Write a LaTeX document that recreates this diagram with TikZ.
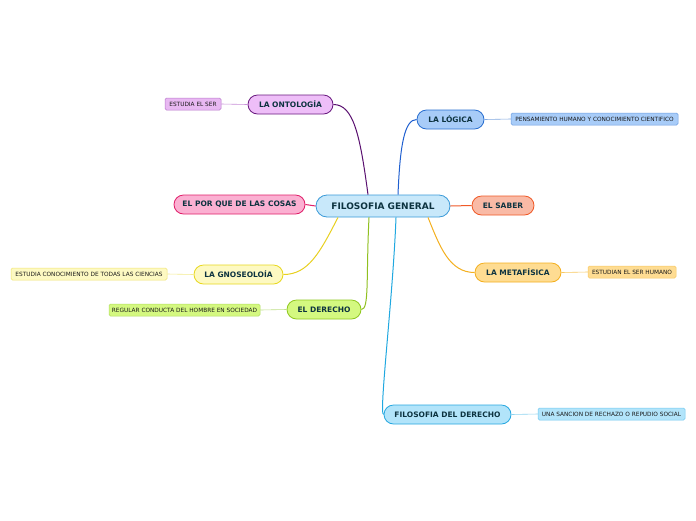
\documentclass[tikz,border=0pt]{standalone}
\usepackage{fontspec}
\setmainfont{DejaVu Sans}
\definecolor{txt}{HTML}{0D3340}
\definecolor{cF}{HTML}{C8E8FA}\definecolor{cD}{HTML}{3A9AD8}
\definecolor{oF}{HTML}{EEBEF8}\definecolor{oD}{HTML}{6A1B80}\definecolor{oC}{HTML}{5A1070}
\definecolor{gF}{HTML}{A8CCF8}\definecolor{gD}{HTML}{2A6FD0}\definecolor{gC}{HTML}{2060D0}
\definecolor{pF}{HTML}{FBB0D2}\definecolor{pD}{HTML}{E0206A}
\definecolor{sF}{HTML}{F9BAA6}\definecolor{sD}{HTML}{F05A28}
\definecolor{nF}{HTML}{FDF9C2}\definecolor{nD}{HTML}{E8D820}\definecolor{nC}{HTML}{E8D020}
\definecolor{dF}{HTML}{D4F880}\definecolor{dD}{HTML}{90C820}\definecolor{dC}{HTML}{90C020}
\definecolor{mF}{HTML}{FEDC92}\definecolor{mD}{HTML}{F4B020}
\definecolor{fF}{HTML}{B2E4FA}\definecolor{fD}{HTML}{28A8E0}\definecolor{fC}{HTML}{20A8E0}
\definecolor{l1F}{HTML}{E8B8F2}\definecolor{l1D}{HTML}{B878CC}\definecolor{l1C}{HTML}{C890D8}
\definecolor{l2D}{HTML}{6A9CE0}\definecolor{l2C}{HTML}{80A8E0}
\definecolor{l3D}{HTML}{F0E470}\definecolor{l3C}{HTML}{F4EC90}
\definecolor{l4D}{HTML}{B0DC60}\definecolor{l4C}{HTML}{C0E088}
\definecolor{l5D}{HTML}{F8C860}
\definecolor{l6D}{HTML}{70C8F0}\definecolor{l6C}{HTML}{90D4F0}
\begin{document}
\begin{tikzpicture}[x=1pt,y=-1pt,
  main/.style={draw, rounded corners=9.5pt, line width=0.8pt, font=\fontsize{7.5}{8}\selectfont\bfseries, text=txt, inner sep=0pt, minimum height=19pt},
  leaf/.style={draw, rounded corners=1.5pt, line width=0.5pt, font=\fontsize{5.8}{6}\selectfont, text=black!90, inner sep=0pt, minimum height=12pt},
  conn/.style={line width=1pt},
  sub/.style={line width=0.6pt}]
\useasboundingbox (0,0) rectangle (696,520);
\fill[white] (0,0) rectangle (696,520);
% central
\node[main, rounded corners=11pt, minimum height=22pt, minimum width=134pt, fill=cF, draw=cD, font=\fontsize{9}{10}\selectfont\bfseries] (c) at (383,206) {FILOSOFIA GENERAL};
% main nodes
\node[main, minimum width=85pt, fill=oF, draw=oD] (ont) at (290.5,104.5) {LA ONTOLOGÍA};
\node[main, minimum width=67pt, fill=gF, draw=gD] (log) at (450.5,119.5) {LA LÓGICA};
\node[main, minimum width=131pt, fill=pF, draw=pD] (por) at (239.5,204.5) {EL POR QUE DE LAS COSAS};
\node[main, minimum width=62pt, fill=sF, draw=sD] (sab) at (503,205.5) {EL SABER};
\node[main, minimum width=89pt, fill=nF, draw=nD] (gno) at (238.5,274.5) {LA GNOSEOLOÍA};
\node[main, minimum width=74pt, fill=dF, draw=dD] (der) at (324,309.5) {EL DERECHO};
\node[main, minimum width=86pt, fill=mF, draw=mD] (met) at (518,272.5) {LA METAFÍSICA};
\node[main, minimum width=127pt, fill=fF, draw=fD] (fdd) at (447.5,414.5) {FILOSOFIA DEL DERECHO};
% leaves
\node[leaf, minimum width=56pt, fill=l1F, draw=l1D] (l1) at (193,104) {ESTUDIA EL SER};
\node[leaf, minimum width=167pt, fill=gF, draw=l2D] (l2) at (594.5,119) {PENSAMIENTO HUMANO Y CONOCIMIENTO CIENTIFICO};
\node[leaf, minimum width=156pt, fill=nF, draw=l3D] (l3) at (89,274) {ESTUDIA CONOCIMIENTO DE TODAS LAS CIENCIAS};
\node[leaf, minimum width=151pt, fill=dF, draw=l4D] (l4) at (184.5,310) {REGULAR CONDUCTA DEL HOMBRE EN SOCIEDAD};
\node[leaf, minimum width=88pt, fill=mF, draw=l5D] (l5) at (632,272) {ESTUDIAN EL SER HUMANO};
\node[leaf, minimum width=147pt, fill=fF, draw=l6D] (l6) at (611.5,414) {UNA SANCION DE RECHAZO O REPUDIO SOCIAL};
% connectors from central
\draw[conn, draw=oC] ([xshift=-15pt]c.north) .. controls ++(-8,-60) and ++(20,0) .. (ont.east);
\draw[conn, draw=gC] ([xshift=15pt]c.north) .. controls ++(2,-50) and ++(-12,0) .. (log.west);
\draw[conn, draw=pD] (c.west) -- (por.east);
\draw[conn, draw=sD] (c.east) -- (sab.west);
\draw[conn, draw=mD] ([xshift=45pt]c.south) .. controls ++(12,30) and ++(-25,0) .. (met.west);
\draw[conn, draw=fC] ([xshift=13pt]c.south) .. controls ++(-3,80) and ++(-5,0) .. (fdd.west);
\draw[conn, draw=dC] ([xshift=-14pt]c.south) .. controls ++(-3,60) and ++(8,0) .. (der.east);
\draw[conn, draw=nC] ([xshift=-45pt]c.south) .. controls ++(-18,35) and ++(25,0) .. (gno.east);
% sub connectors
\draw[sub, draw=l1C] (ont.west) -- (l1.east);
\draw[sub, draw=l2C] (log.east) -- (l2.west);
\draw[sub, draw=l3C] (gno.west) -- (l3.east);
\draw[sub, draw=l4C] (der.west) -- (l4.east);
\draw[sub, draw=l5D] (met.east) -- (l5.west);
\draw[sub, draw=l6C] (fdd.east) -- (l6.west);
\end{tikzpicture}
\end{document}
